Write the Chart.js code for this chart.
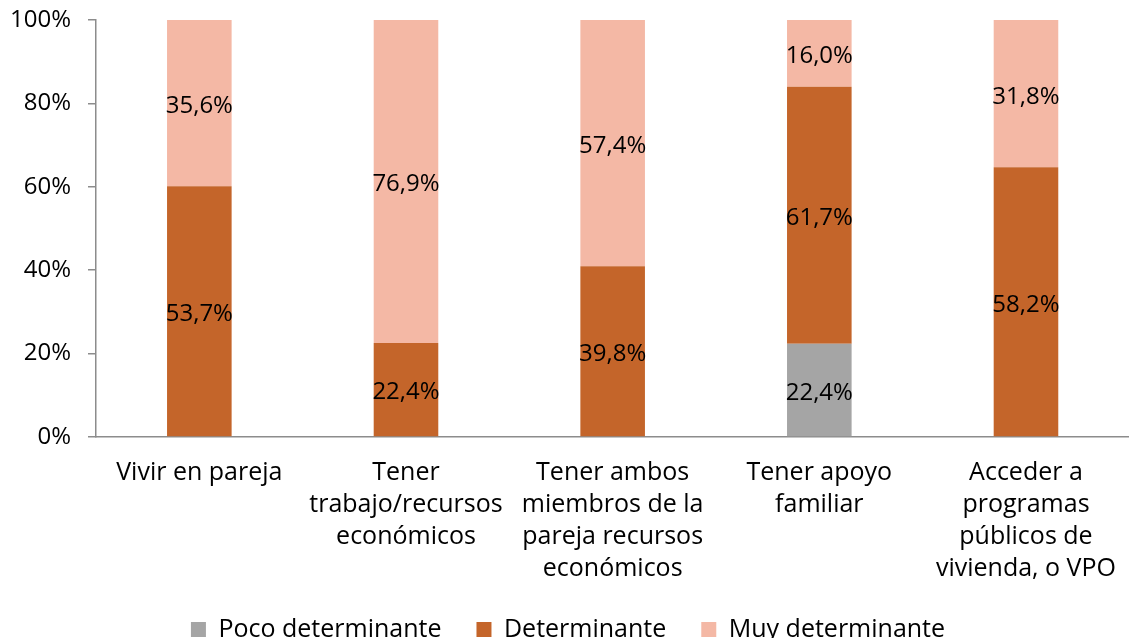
<!DOCTYPE html>
<html>
<head>
<meta charset="utf-8">
<script src="https://cdn.jsdelivr.net/npm/chart.js@4/dist/chart.umd.min.js"></script>
<style>
  html, body { margin: 0; padding: 0; background: #fff; overflow: hidden; }
  #wrap { width: 1136px; height: 638px; position: relative; }
</style>
</head>
<body>
<div id="wrap"><canvas id="chart"></canvas></div>
<script>
// categories (multi-line as in the original)
var categories = [
    ['Vivir en pareja'],
    ['Tener', 'trabajo/recursos', 'económicos'],
    ['Tener ambos', 'miembros de la', 'pareja recursos', 'económicos'],
    ['Tener apoyo', 'familiar'],
    ['Acceder a', 'programas', 'públicos de', 'vivienda, o VPO']
];
var seriesNames = ['Poco determinante', 'Determinante', 'Muy determinante'];
var poco = [0, 0, 0, 22.4, 0];
var determinante = [53.7, 22.4, 39.8, 61.7, 58.2];
var muy = [35.6, 76.9, 57.4, 16.0, 31.8];
var yTicks = [0, 20, 40, 60, 80, 100];

var colors = ['#A5A5A5', '#C4652A', '#F4B8A5'];
var FONT = "'Open Sans', 'Noto Sans', sans-serif";

// 100% stacked: each bar is scaled to its own total
var raw = [poco, determinante, muy];
var totals = categories.map(function (c, i) {
    return poco[i] + determinante[i] + muy[i];
});

function toPct(arr) {
    return arr.map(function (v, i) { return v / totals[i] * 100; });
}

var datasets = raw.map(function (arr, k) {
    return {
        label: seriesNames[k],
        data: toPct(arr),
        rawValues: arr,
        backgroundColor: colors[k],
        borderWidth: 0,
        barPercentage: 1,
        categoryPercentage: 0.3125
    };
});

// draw the original values in the middle of each segment
var segmentLabels = {
    id: 'segmentLabels',
    afterDatasetsDraw: function (chart) {
        var ctx = chart.ctx;
        ctx.save();
        ctx.font = '24px ' + FONT;
        ctx.fillStyle = '#000';
        ctx.textAlign = 'center';
        ctx.textBaseline = 'middle';
        chart.data.datasets.forEach(function (ds, di) {
            var meta = chart.getDatasetMeta(di);
            meta.data.forEach(function (bar, i) {
                var v = ds.rawValues[i];
                if (!v) return;
                var y = (bar.y + bar.base) / 2 + 3;
                ctx.fillText(v.toFixed(1).replace('.', ',') + '%', bar.x, y);
            });
        });
        ctx.restore();
    }
};

var chart = new Chart(document.getElementById('chart'), {
    type: 'bar',
    data: { labels: categories, datasets: datasets },
    plugins: [segmentLabels],
    options: {
        responsive: true,
        maintainAspectRatio: false,
        animation: false,
        layout: { padding: { top: 20, left: 0, right: 0, bottom: -14 } },
        plugins: {
            tooltip: { enabled: false },
            legend: {
                position: 'bottom',
                labels: {
                    boxWidth: 15,
                    boxHeight: 15,
                    padding: 35,
                    color: '#000',
                    font: { family: FONT, size: 25 }
                }
            }
        },
        scales: {
            x: {
                stacked: true,
                grid: { display: false, drawTicks: false },
                border: { display: true, color: '#8c8c8c', width: 1.5 },
                ticks: {
                    padding: 20,
                    color: '#000',
                    maxRotation: 0,
                    autoSkip: false,
                    font: { family: FONT, size: 25, lineHeight: 1.28 }
                },
                afterFit: function (s) { s.height = 145; }
            },
            y: {
                stacked: true,
                min: 0,
                max: 100,
                afterBuildTicks: function (s) {
                    s.ticks = yTicks.map(function (v) { return { value: v }; });
                },
                grid: {
                    drawOnChartArea: false,
                    tickLength: 8,
                    color: '#8c8c8c',
                    lineWidth: 1.5
                },
                border: { display: true, color: '#8c8c8c', width: 1.5 },
                ticks: {
                    padding: 17,
                    color: '#000',
                    font: { family: FONT, size: 24 },
                    callback: function (v) { return v + '%'; }
                },
                afterFit: function (s) {
                    s.width = 96;
                    s.paddingTop = 0;
                    s.paddingBottom = 0;
                }
            }
        }
    }
});
</script>
</body>
</html>
